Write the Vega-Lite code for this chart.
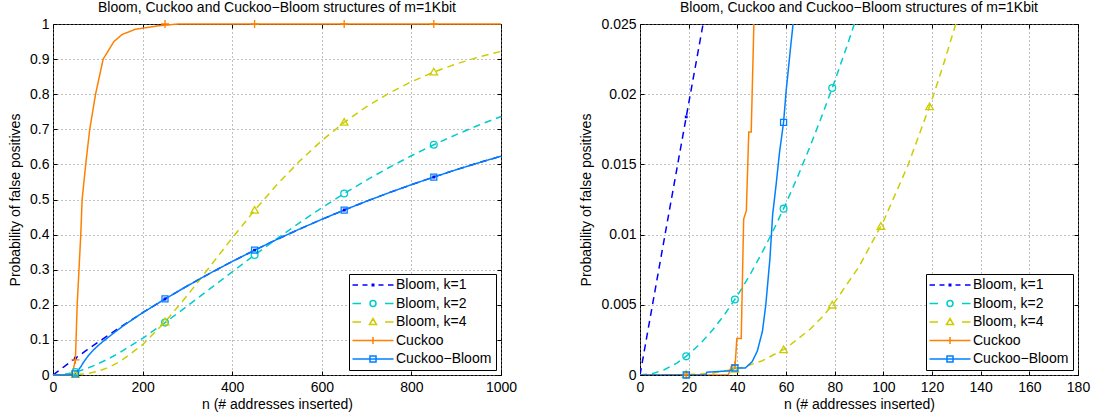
{
"$schema": "https://vega.github.io/schema/vega-lite/v6.json",
"background": "white",
"padding": {"left": 8, "top": 0, "right": 4, "bottom": 2},
"spacing": 61,
"config": {
  "font": "Liberation Sans",
  "view": {"stroke": "black", "strokeWidth": 1},
  "axis": {"labelFont": "Liberation Sans", "labelFontSize": 14, "labelColor": "black", "titleFont": "Liberation Sans", "titleFontSize": 14, "titleFontWeight": "normal", "titleColor": "black", "domainColor": "black", "tickColor": "black", "gridColor": "#808080", "gridDash": [1, 3], "gridOpacity": 1, "labelFlush": false, "labelOverlap": false},
  "title": {"font": "Liberation Sans", "fontSize": 14, "fontWeight": "normal", "color": "black", "offset": 1, "dy": -1}
},
"datasets": {
  "curves": [
    {"series": "Bloom, k=1", "n": 0, "p": 0},
    {"series": "Bloom, k=1", "n": 5, "p": 0.004871},
    {"series": "Bloom, k=1", "n": 10, "p": 0.009718},
    {"series": "Bloom, k=1", "n": 15, "p": 0.014541},
    {"series": "Bloom, k=1", "n": 20, "p": 0.019342},
    {"series": "Bloom, k=1", "n": 25, "p": 0.024118},
    {"series": "Bloom, k=1", "n": 30, "p": 0.028872},
    {"series": "Bloom, k=1", "n": 50, "p": 0.047655},
    {"series": "Bloom, k=1", "n": 75, "p": 0.070625},
    {"series": "Bloom, k=1", "n": 100, "p": 0.093039},
    {"series": "Bloom, k=1", "n": 125, "p": 0.114914},
    {"series": "Bloom, k=1", "n": 150, "p": 0.136261},
    {"series": "Bloom, k=1", "n": 200, "p": 0.177423},
    {"series": "Bloom, k=1", "n": 250, "p": 0.216623},
    {"series": "Bloom, k=1", "n": 300, "p": 0.253955},
    {"series": "Bloom, k=1", "n": 350, "p": 0.289508},
    {"series": "Bloom, k=1", "n": 400, "p": 0.323366},
    {"series": "Bloom, k=1", "n": 450, "p": 0.355611},
    {"series": "Bloom, k=1", "n": 500, "p": 0.386319},
    {"series": "Bloom, k=1", "n": 550, "p": 0.415565},
    {"series": "Bloom, k=1", "n": 600, "p": 0.443416},
    {"series": "Bloom, k=1", "n": 650, "p": 0.46994},
    {"series": "Bloom, k=1", "n": 700, "p": 0.495201},
    {"series": "Bloom, k=1", "n": 750, "p": 0.519256},
    {"series": "Bloom, k=1", "n": 800, "p": 0.542167},
    {"series": "Bloom, k=1", "n": 850, "p": 0.563984},
    {"series": "Bloom, k=1", "n": 900, "p": 0.584763},
    {"series": "Bloom, k=1", "n": 950, "p": 0.604551},
    {"series": "Bloom, k=1", "n": 1000, "p": 0.623397},
    {"series": "Bloom, k=2", "n": 0, "p": 0},
    {"series": "Bloom, k=2", "n": 5, "p": 0.0000944},
    {"series": "Bloom, k=2", "n": 10, "p": 0.000374},
    {"series": "Bloom, k=2", "n": 15, "p": 0.000834},
    {"series": "Bloom, k=2", "n": 20, "p": 0.001468},
    {"series": "Bloom, k=2", "n": 25, "p": 0.002271},
    {"series": "Bloom, k=2", "n": 30, "p": 0.003239},
    {"series": "Bloom, k=2", "n": 35, "p": 0.004366},
    {"series": "Bloom, k=2", "n": 40, "p": 0.005648},
    {"series": "Bloom, k=2", "n": 45, "p": 0.00708},
    {"series": "Bloom, k=2", "n": 50, "p": 0.008656},
    {"series": "Bloom, k=2", "n": 55, "p": 0.010374},
    {"series": "Bloom, k=2", "n": 60, "p": 0.012228},
    {"series": "Bloom, k=2", "n": 65, "p": 0.014215},
    {"series": "Bloom, k=2", "n": 70, "p": 0.016329},
    {"series": "Bloom, k=2", "n": 75, "p": 0.018567},
    {"series": "Bloom, k=2", "n": 80, "p": 0.020925},
    {"series": "Bloom, k=2", "n": 85, "p": 0.023399},
    {"series": "Bloom, k=2", "n": 90, "p": 0.025985},
    {"series": "Bloom, k=2", "n": 100, "p": 0.031479},
    {"series": "Bloom, k=2", "n": 125, "p": 0.046926},
    {"series": "Bloom, k=2", "n": 150, "p": 0.064493},
    {"series": "Bloom, k=2", "n": 200, "p": 0.104566},
    {"series": "Bloom, k=2", "n": 250, "p": 0.149242},
    {"series": "Bloom, k=2", "n": 300, "p": 0.196618},
    {"series": "Bloom, k=2", "n": 350, "p": 0.245224},
    {"series": "Bloom, k=2", "n": 400, "p": 0.293945},
    {"series": "Bloom, k=2", "n": 450, "p": 0.341948},
    {"series": "Bloom, k=2", "n": 500, "p": 0.388624},
    {"series": "Bloom, k=2", "n": 550, "p": 0.433538},
    {"series": "Bloom, k=2", "n": 600, "p": 0.476395},
    {"series": "Bloom, k=2", "n": 650, "p": 0.517013},
    {"series": "Bloom, k=2", "n": 700, "p": 0.55529},
    {"series": "Bloom, k=2", "n": 750, "p": 0.591186},
    {"series": "Bloom, k=2", "n": 800, "p": 0.624715},
    {"series": "Bloom, k=2", "n": 850, "p": 0.655923},
    {"series": "Bloom, k=2", "n": 900, "p": 0.684885},
    {"series": "Bloom, k=2", "n": 950, "p": 0.711695},
    {"series": "Bloom, k=2", "n": 1000, "p": 0.736456},
    {"series": "Bloom, k=4", "n": 0, "p": 0},
    {"series": "Bloom, k=4", "n": 10, "p": 0.0000022},
    {"series": "Bloom, k=4", "n": 20, "p": 0.0000319},
    {"series": "Bloom, k=4", "n": 25, "p": 0.0000749},
    {"series": "Bloom, k=4", "n": 30, "p": 0.00015},
    {"series": "Bloom, k=4", "n": 40, "p": 0.000438},
    {"series": "Bloom, k=4", "n": 50, "p": 0.000991},
    {"series": "Bloom, k=4", "n": 60, "p": 0.001906},
    {"series": "Bloom, k=4", "n": 70, "p": 0.003276},
    {"series": "Bloom, k=4", "n": 75, "p": 0.004159},
    {"series": "Bloom, k=4", "n": 80, "p": 0.005188},
    {"series": "Bloom, k=4", "n": 90, "p": 0.00772},
    {"series": "Bloom, k=4", "n": 100, "p": 0.010934},
    {"series": "Bloom, k=4", "n": 110, "p": 0.014885},
    {"series": "Bloom, k=4", "n": 120, "p": 0.019611},
    {"series": "Bloom, k=4", "n": 125, "p": 0.022273},
    {"series": "Bloom, k=4", "n": 130, "p": 0.02514},
    {"series": "Bloom, k=4", "n": 150, "p": 0.038659},
    {"series": "Bloom, k=4", "n": 200, "p": 0.086404},
    {"series": "Bloom, k=4", "n": 250, "p": 0.151029},
    {"series": "Bloom, k=4", "n": 300, "p": 0.226952},
    {"series": "Bloom, k=4", "n": 350, "p": 0.308347},
    {"series": "Bloom, k=4", "n": 400, "p": 0.390269},
    {"series": "Bloom, k=4", "n": 450, "p": 0.469067},
    {"series": "Bloom, k=4", "n": 500, "p": 0.542367},
    {"series": "Bloom, k=4", "n": 550, "p": 0.608835},
    {"series": "Bloom, k=4", "n": 600, "p": 0.66794},
    {"series": "Bloom, k=4", "n": 650, "p": 0.719698},
    {"series": "Bloom, k=4", "n": 700, "p": 0.764484},
    {"series": "Bloom, k=4", "n": 750, "p": 0.802861},
    {"series": "Bloom, k=4", "n": 800, "p": 0.835498},
    {"series": "Bloom, k=4", "n": 850, "p": 0.863086},
    {"series": "Bloom, k=4", "n": 900, "p": 0.886283},
    {"series": "Bloom, k=4", "n": 950, "p": 0.90571},
    {"series": "Bloom, k=4", "n": 1000, "p": 0.921932},
    {"series": "Cuckoo", "n": 0, "p": 0},
    {"series": "Cuckoo", "n": 36.3, "p": 0},
    {"series": "Cuckoo", "n": 37.7, "p": 0.0007},
    {"series": "Cuckoo", "n": 39.1, "p": 0.0007},
    {"series": "Cuckoo", "n": 39.8, "p": 0.0026},
    {"series": "Cuckoo", "n": 41.6, "p": 0.0026},
    {"series": "Cuckoo", "n": 42.6, "p": 0.0111},
    {"series": "Cuckoo", "n": 43.7, "p": 0.0117},
    {"series": "Cuckoo", "n": 44.7, "p": 0.0173},
    {"series": "Cuckoo", "n": 45.7, "p": 0.0173},
    {"series": "Cuckoo", "n": 46.8, "p": 0.025},
    {"series": "Cuckoo", "n": 50, "p": 0.043},
    {"series": "Cuckoo", "n": 54, "p": 0.2},
    {"series": "Cuckoo", "n": 58, "p": 0.3},
    {"series": "Cuckoo", "n": 62, "p": 0.4},
    {"series": "Cuckoo", "n": 65, "p": 0.5},
    {"series": "Cuckoo", "n": 73, "p": 0.6},
    {"series": "Cuckoo", "n": 82, "p": 0.7},
    {"series": "Cuckoo", "n": 95, "p": 0.8},
    {"series": "Cuckoo", "n": 112, "p": 0.9},
    {"series": "Cuckoo", "n": 136, "p": 0.95},
    {"series": "Cuckoo", "n": 154, "p": 0.97},
    {"series": "Cuckoo", "n": 184, "p": 0.985},
    {"series": "Cuckoo", "n": 236, "p": 0.995},
    {"series": "Cuckoo", "n": 280, "p": 1},
    {"series": "Cuckoo", "n": 1000, "p": 1},
    {"series": "Cuckoo−Bloom", "n": 0, "p": 0},
    {"series": "Cuckoo−Bloom", "n": 27, "p": 0},
    {"series": "Cuckoo−Bloom", "n": 27.5, "p": 0.0002},
    {"series": "Cuckoo−Bloom", "n": 37, "p": 0.0003},
    {"series": "Cuckoo−Bloom", "n": 39, "p": 0.0005},
    {"series": "Cuckoo−Bloom", "n": 43.3, "p": 0.0005},
    {"series": "Cuckoo−Bloom", "n": 46.1, "p": 0.00095},
    {"series": "Cuckoo−Bloom", "n": 48.2, "p": 0.0017},
    {"series": "Cuckoo−Bloom", "n": 50.3, "p": 0.0031},
    {"series": "Cuckoo−Bloom", "n": 51.7, "p": 0.005},
    {"series": "Cuckoo−Bloom", "n": 53.4, "p": 0.0083},
    {"series": "Cuckoo−Bloom", "n": 54.5, "p": 0.0114},
    {"series": "Cuckoo−Bloom", "n": 55.9, "p": 0.0135},
    {"series": "Cuckoo−Bloom", "n": 57.3, "p": 0.0158},
    {"series": "Cuckoo−Bloom", "n": 59, "p": 0.018},
    {"series": "Cuckoo−Bloom", "n": 60.1, "p": 0.0203},
    {"series": "Cuckoo−Bloom", "n": 61.8, "p": 0.0232},
    {"series": "Cuckoo−Bloom", "n": 62.9, "p": 0.025},
    {"series": "Cuckoo−Bloom", "n": 66, "p": 0.032},
    {"series": "Cuckoo−Bloom", "n": 73, "p": 0.045},
    {"series": "Cuckoo−Bloom", "n": 80, "p": 0.057},
    {"series": "Cuckoo−Bloom", "n": 90, "p": 0.071},
    {"series": "Cuckoo−Bloom", "n": 100, "p": 0.083},
    {"series": "Cuckoo−Bloom", "n": 110, "p": 0.094},
    {"series": "Cuckoo−Bloom", "n": 125, "p": 0.109},
    {"series": "Cuckoo−Bloom", "n": 140, "p": 0.124},
    {"series": "Cuckoo−Bloom", "n": 160, "p": 0.143},
    {"series": "Cuckoo−Bloom", "n": 200, "p": 0.177423},
    {"series": "Cuckoo−Bloom", "n": 250, "p": 0.216623},
    {"series": "Cuckoo−Bloom", "n": 300, "p": 0.253955},
    {"series": "Cuckoo−Bloom", "n": 350, "p": 0.289508},
    {"series": "Cuckoo−Bloom", "n": 400, "p": 0.323366},
    {"series": "Cuckoo−Bloom", "n": 450, "p": 0.355611},
    {"series": "Cuckoo−Bloom", "n": 500, "p": 0.386319},
    {"series": "Cuckoo−Bloom", "n": 550, "p": 0.415565},
    {"series": "Cuckoo−Bloom", "n": 600, "p": 0.443416},
    {"series": "Cuckoo−Bloom", "n": 650, "p": 0.46994},
    {"series": "Cuckoo−Bloom", "n": 700, "p": 0.495201},
    {"series": "Cuckoo−Bloom", "n": 750, "p": 0.519256},
    {"series": "Cuckoo−Bloom", "n": 800, "p": 0.542167},
    {"series": "Cuckoo−Bloom", "n": 850, "p": 0.563984},
    {"series": "Cuckoo−Bloom", "n": 900, "p": 0.584763},
    {"series": "Cuckoo−Bloom", "n": 950, "p": 0.604551},
    {"series": "Cuckoo−Bloom", "n": 1000, "p": 0.623397}
  ],
  "markersLeft": [
    {"series": "Bloom, k=1", "n": 50, "p": 0.047655},
    {"series": "Bloom, k=1", "n": 250, "p": 0.216623},
    {"series": "Bloom, k=1", "n": 450, "p": 0.355611},
    {"series": "Bloom, k=1", "n": 650, "p": 0.46994},
    {"series": "Bloom, k=1", "n": 850, "p": 0.563984},
    {"series": "Bloom, k=2", "n": 50, "p": 0.008656},
    {"series": "Bloom, k=2", "n": 250, "p": 0.149242},
    {"series": "Bloom, k=2", "n": 450, "p": 0.341948},
    {"series": "Bloom, k=2", "n": 650, "p": 0.517013},
    {"series": "Bloom, k=2", "n": 850, "p": 0.655923},
    {"series": "Bloom, k=4", "n": 50, "p": 0.000991},
    {"series": "Bloom, k=4", "n": 250, "p": 0.151029},
    {"series": "Bloom, k=4", "n": 450, "p": 0.469067},
    {"series": "Bloom, k=4", "n": 650, "p": 0.719698},
    {"series": "Bloom, k=4", "n": 850, "p": 0.863086},
    {"series": "Cuckoo", "n": 50, "p": 0.043},
    {"series": "Cuckoo", "n": 250, "p": 1},
    {"series": "Cuckoo", "n": 450, "p": 1},
    {"series": "Cuckoo", "n": 650, "p": 1},
    {"series": "Cuckoo", "n": 850, "p": 1},
    {"series": "Cuckoo−Bloom", "n": 50, "p": 0.0031},
    {"series": "Cuckoo−Bloom", "n": 250, "p": 0.216623},
    {"series": "Cuckoo−Bloom", "n": 450, "p": 0.355611},
    {"series": "Cuckoo−Bloom", "n": 650, "p": 0.46994},
    {"series": "Cuckoo−Bloom", "n": 850, "p": 0.563984}
  ],
  "markersRight": [
    {"series": "Bloom, k=1", "n": 19, "p": 0.018384},
    {"series": "Bloom, k=2", "n": 19, "p": 0.001327},
    {"series": "Bloom, k=2", "n": 39, "p": 0.005379},
    {"series": "Bloom, k=2", "n": 59, "p": 0.011847},
    {"series": "Bloom, k=2", "n": 79, "p": 0.020444},
    {"series": "Bloom, k=4", "n": 19, "p": 0.0000262},
    {"series": "Bloom, k=4", "n": 39, "p": 0.000399},
    {"series": "Bloom, k=4", "n": 59, "p": 0.001795},
    {"series": "Bloom, k=4", "n": 79, "p": 0.00497},
    {"series": "Bloom, k=4", "n": 99, "p": 0.01058},
    {"series": "Bloom, k=4", "n": 119, "p": 0.019102},
    {"series": "Cuckoo", "n": 19, "p": 0},
    {"series": "Cuckoo", "n": 39, "p": 0.0007},
    {"series": "Cuckoo−Bloom", "n": 19, "p": 0},
    {"series": "Cuckoo−Bloom", "n": 39, "p": 0.0005},
    {"series": "Cuckoo−Bloom", "n": 59, "p": 0.018}
  ]
},
"hconcat": [
  {
    "width": 448, "height": 351,
    "title": "Bloom, Cuckoo and Cuckoo−Bloom structures of m=1Kbit",
    "resolve": {"scale": {"shape": "independent", "stroke": "independent"}, "axis": {"x": "independent", "y": "independent"}},
    "layer": [
      {
        "data": {"name": "curves"},
        "mark": {"type": "line", "strokeWidth": 1.5, "clip": false},
        "encoding": {
          "x": {"field": "n", "type": "quantitative", "scale": {"domain": [0, 1000], "nice": false}, "axis": {"orient": "bottom", "values": [0, 200, 400, 600, 800, 1000], "format": "d", "ticks": false, "labelPadding": 5, "title": "n (# addresses inserted)", "titlePadding": 3, "grid": true, "domain": false}},
          "y": {"field": "p", "type": "quantitative", "scale": {"domain": [0, 1], "nice": false}, "axis": {"orient": "left", "values": [0, 0.1, 0.2, 0.3, 0.4, 0.5, 0.6, 0.7, 0.8, 0.9, 1], "format": "~g", "ticks": false, "labelPadding": 4, "title": "Probability of false positives", "titlePadding": 7, "grid": true, "domain": false}},
          "color": {"field": "series", "type": "nominal", "scale": {"domain": ["Bloom, k=1", "Bloom, k=2", "Bloom, k=4", "Cuckoo", "Cuckoo−Bloom"], "range": ["#0000ff", "#00cccc", "#cccc00", "#ff8000", "#0080ff"]}, "legend": null},
          "strokeDash": {"field": "series", "type": "nominal", "scale": {"domain": ["Bloom, k=1", "Bloom, k=2", "Bloom, k=4", "Cuckoo", "Cuckoo−Bloom"], "range": [[7, 5], [7, 5], [7, 5], [1, 0], [1, 0]]}, "legend": null}
        }
      },
      {
        "data": {"name": "markersLeft"},
        "mark": {"type": "point", "filled": false, "size": 64, "strokeWidth": 1.3, "opacity": 1},
        "encoding": {
          "x": {"field": "n", "type": "quantitative", "scale": {"domain": [0, 1000], "nice": false}, "axis": {"orient": "top", "values": [0, 200, 400, 600, 800, 1000], "labels": false, "title": null, "grid": false, "domain": false, "tickSize": -4}},
          "y": {"field": "p", "type": "quantitative", "scale": {"domain": [0, 1], "nice": false}, "axis": {"orient": "right", "values": [0, 0.1, 0.2, 0.3, 0.4, 0.5, 0.6, 0.7, 0.8, 0.9, 1], "labels": false, "title": null, "grid": false, "domain": false, "tickSize": -4}},
          "color": {"field": "series", "type": "nominal", "scale": {"domain": ["Bloom, k=1", "Bloom, k=2", "Bloom, k=4", "Cuckoo", "Cuckoo−Bloom"], "range": ["#0000ff", "#00cccc", "#cccc00", "#ff8000", "#0080ff"]}, "legend": null},
          "shape": {"field": "series", "type": "nominal", "scale": {"domain": ["Bloom, k=1", "Bloom, k=2", "Bloom, k=4", "Cuckoo", "Cuckoo−Bloom"], "range": ["M-0.2,-0.2H0.2V0.2H-0.2Z", "M0.85,0A0.85,0.85,0,1,1,-0.85,0A0.85,0.85,0,1,1,0.85,0Z", "M0,-0.95L0.95,0.7H-0.95Z", "M-1,0H1M0,-1V1", "M-0.75,-0.75H0.75V0.75H-0.75Z"]}, "legend": null}
        }
      },
      {
        "data": {"name": "markersLeft"},
        "mark": {"type": "point", "filled": false, "opacity": 0},
        "encoding": {
          "x": {"field": "n", "type": "quantitative", "scale": {"domain": [0, 1000], "nice": false}, "axis": {"orient": "bottom", "values": [0, 200, 400, 600, 800, 1000], "labels": false, "title": null, "grid": false, "domain": false, "tickSize": -4}},
          "y": {"field": "p", "type": "quantitative", "scale": {"domain": [0, 1], "nice": false}, "axis": {"orient": "left", "values": [0, 0.1, 0.2, 0.3, 0.4, 0.5, 0.6, 0.7, 0.8, 0.9, 1], "labels": false, "title": null, "grid": false, "domain": false, "tickSize": -4}},
          "stroke": {"field": "series", "type": "nominal", "scale": {"domain": ["Bloom, k=1", "Bloom, k=2", "Bloom, k=4", "Cuckoo", "Cuckoo−Bloom"], "range": ["#0000ff", "#00cccc", "#cccc00", "#ff8000", "#0080ff"]}, "legend": {"title": null, "orient": "bottom-right", "offset": 5, "strokeColor": "black", "fillColor": "white", "padding": 4, "labelFont": "Liberation Sans", "labelFontSize": 14, "labelColor": "black", "labelLimit": 0, "symbolSize": 100, "symbolStrokeWidth": 1.5, "symbolOffset": 13, "labelOffset": 16, "rowPadding": 4.5, "symbolFillColor": "transparent", "symbolOpacity": 1}},
          "shape": {"field": "series", "type": "nominal", "scale": {"domain": ["Bloom, k=1", "Bloom, k=2", "Bloom, k=4", "Cuckoo", "Cuckoo−Bloom"], "range": ["M-4.1,0H-3M-2.1,0H-1.1M-0.15,-0.15H0.15V0.15H-0.15ZM1.1,0H2.1M3,0H4.1", "M-4.1,0H-2.4M2.4,0H4.1M0.6,0A0.6,0.6,0,1,1,-0.6,0A0.6,0.6,0,1,1,0.6,0Z", "M-4.1,0H-2.4M2.4,0H4.1M0,-0.7L0.7,0.5H-0.7Z", "M-4.1,0H4.1M0,-0.7V0.7", "M-4.1,0H4.1M-0.6,-0.6H0.6V0.6H-0.6Z"]}, "legend": {"title": null, "orient": "bottom-right", "offset": 5, "strokeColor": "black", "fillColor": "white", "padding": 4, "labelFont": "Liberation Sans", "labelFontSize": 14, "labelColor": "black", "labelLimit": 0, "symbolSize": 100, "symbolStrokeWidth": 1.5, "symbolOffset": 13, "labelOffset": 16, "rowPadding": 4.5, "symbolFillColor": "transparent", "symbolOpacity": 1}}
        }
      }
    ]
  },
  {
    "width": 438, "height": 351,
    "title": "Bloom, Cuckoo and Cuckoo−Bloom structures of m=1Kbit",
    "resolve": {"scale": {"shape": "independent", "stroke": "independent"}, "axis": {"x": "independent", "y": "independent"}},
    "layer": [
      {
        "data": {"name": "curves"},
        "mark": {"type": "line", "strokeWidth": 1.5, "clip": true},
        "encoding": {
          "x": {"field": "n", "type": "quantitative", "scale": {"domain": [0, 180], "nice": false}, "axis": {"orient": "bottom", "values": [0, 20, 40, 60, 80, 100, 120, 140, 160, 180], "format": "d", "ticks": false, "labelPadding": 5, "title": "n (# addresses inserted)", "titlePadding": 3, "grid": true, "domain": false}},
          "y": {"field": "p", "type": "quantitative", "scale": {"domain": [0, 0.025], "nice": false}, "axis": {"orient": "left", "values": [0, 0.005, 0.01, 0.015, 0.02, 0.025], "format": "~g", "ticks": false, "labelPadding": 4, "title": "Probability of false positives", "titlePadding": 7, "grid": true, "domain": false}},
          "color": {"field": "series", "type": "nominal", "scale": {"domain": ["Bloom, k=1", "Bloom, k=2", "Bloom, k=4", "Cuckoo", "Cuckoo−Bloom"], "range": ["#0000ff", "#00cccc", "#cccc00", "#ff8000", "#0080ff"]}, "legend": null},
          "strokeDash": {"field": "series", "type": "nominal", "scale": {"domain": ["Bloom, k=1", "Bloom, k=2", "Bloom, k=4", "Cuckoo", "Cuckoo−Bloom"], "range": [[7, 5], [7, 5], [7, 5], [1, 0], [1, 0]]}, "legend": null}
        }
      },
      {
        "data": {"name": "markersRight"},
        "mark": {"type": "point", "filled": false, "size": 64, "strokeWidth": 1.3, "opacity": 1},
        "encoding": {
          "x": {"field": "n", "type": "quantitative", "scale": {"domain": [0, 180], "nice": false}, "axis": {"orient": "top", "values": [0, 20, 40, 60, 80, 100, 120, 140, 160, 180], "labels": false, "title": null, "grid": false, "domain": false, "tickSize": -4}},
          "y": {"field": "p", "type": "quantitative", "scale": {"domain": [0, 0.025], "nice": false}, "axis": {"orient": "right", "values": [0, 0.005, 0.01, 0.015, 0.02, 0.025], "labels": false, "title": null, "grid": false, "domain": false, "tickSize": -4}},
          "color": {"field": "series", "type": "nominal", "scale": {"domain": ["Bloom, k=1", "Bloom, k=2", "Bloom, k=4", "Cuckoo", "Cuckoo−Bloom"], "range": ["#0000ff", "#00cccc", "#cccc00", "#ff8000", "#0080ff"]}, "legend": null},
          "shape": {"field": "series", "type": "nominal", "scale": {"domain": ["Bloom, k=1", "Bloom, k=2", "Bloom, k=4", "Cuckoo", "Cuckoo−Bloom"], "range": ["M-0.2,-0.2H0.2V0.2H-0.2Z", "M0.85,0A0.85,0.85,0,1,1,-0.85,0A0.85,0.85,0,1,1,0.85,0Z", "M0,-0.95L0.95,0.7H-0.95Z", "M-1,0H1M0,-1V1", "M-0.75,-0.75H0.75V0.75H-0.75Z"]}, "legend": null}
        }
      },
      {
        "data": {"name": "markersRight"},
        "mark": {"type": "point", "filled": false, "opacity": 0},
        "encoding": {
          "x": {"field": "n", "type": "quantitative", "scale": {"domain": [0, 180], "nice": false}, "axis": {"orient": "bottom", "values": [0, 20, 40, 60, 80, 100, 120, 140, 160, 180], "labels": false, "title": null, "grid": false, "domain": false, "tickSize": -4}},
          "y": {"field": "p", "type": "quantitative", "scale": {"domain": [0, 0.025], "nice": false}, "axis": {"orient": "left", "values": [0, 0.005, 0.01, 0.015, 0.02, 0.025], "labels": false, "title": null, "grid": false, "domain": false, "tickSize": -4}},
          "stroke": {"field": "series", "type": "nominal", "scale": {"domain": ["Bloom, k=1", "Bloom, k=2", "Bloom, k=4", "Cuckoo", "Cuckoo−Bloom"], "range": ["#0000ff", "#00cccc", "#cccc00", "#ff8000", "#0080ff"]}, "legend": {"title": null, "orient": "bottom-right", "offset": 5, "strokeColor": "black", "fillColor": "white", "padding": 4, "labelFont": "Liberation Sans", "labelFontSize": 14, "labelColor": "black", "labelLimit": 0, "symbolSize": 100, "symbolStrokeWidth": 1.5, "symbolOffset": 13, "labelOffset": 16, "rowPadding": 4.5, "symbolFillColor": "transparent", "symbolOpacity": 1}},
          "shape": {"field": "series", "type": "nominal", "scale": {"domain": ["Bloom, k=1", "Bloom, k=2", "Bloom, k=4", "Cuckoo", "Cuckoo−Bloom"], "range": ["M-4.1,0H-3M-2.1,0H-1.1M-0.15,-0.15H0.15V0.15H-0.15ZM1.1,0H2.1M3,0H4.1", "M-4.1,0H-2.4M2.4,0H4.1M0.6,0A0.6,0.6,0,1,1,-0.6,0A0.6,0.6,0,1,1,0.6,0Z", "M-4.1,0H-2.4M2.4,0H4.1M0,-0.7L0.7,0.5H-0.7Z", "M-4.1,0H4.1M0,-0.7V0.7", "M-4.1,0H4.1M-0.6,-0.6H0.6V0.6H-0.6Z"]}, "legend": {"title": null, "orient": "bottom-right", "offset": 5, "strokeColor": "black", "fillColor": "white", "padding": 4, "labelFont": "Liberation Sans", "labelFontSize": 14, "labelColor": "black", "labelLimit": 0, "symbolSize": 100, "symbolStrokeWidth": 1.5, "symbolOffset": 13, "labelOffset": 16, "rowPadding": 4.5, "symbolFillColor": "transparent", "symbolOpacity": 1}}
        }
      }
    ]
  }
],
"resolve": {"scale": {"x": "independent", "y": "independent", "color": "independent", "strokeDash": "independent", "shape": "independent", "stroke": "independent"}, "legend": {"stroke": "independent", "shape": "independent"}}
}
